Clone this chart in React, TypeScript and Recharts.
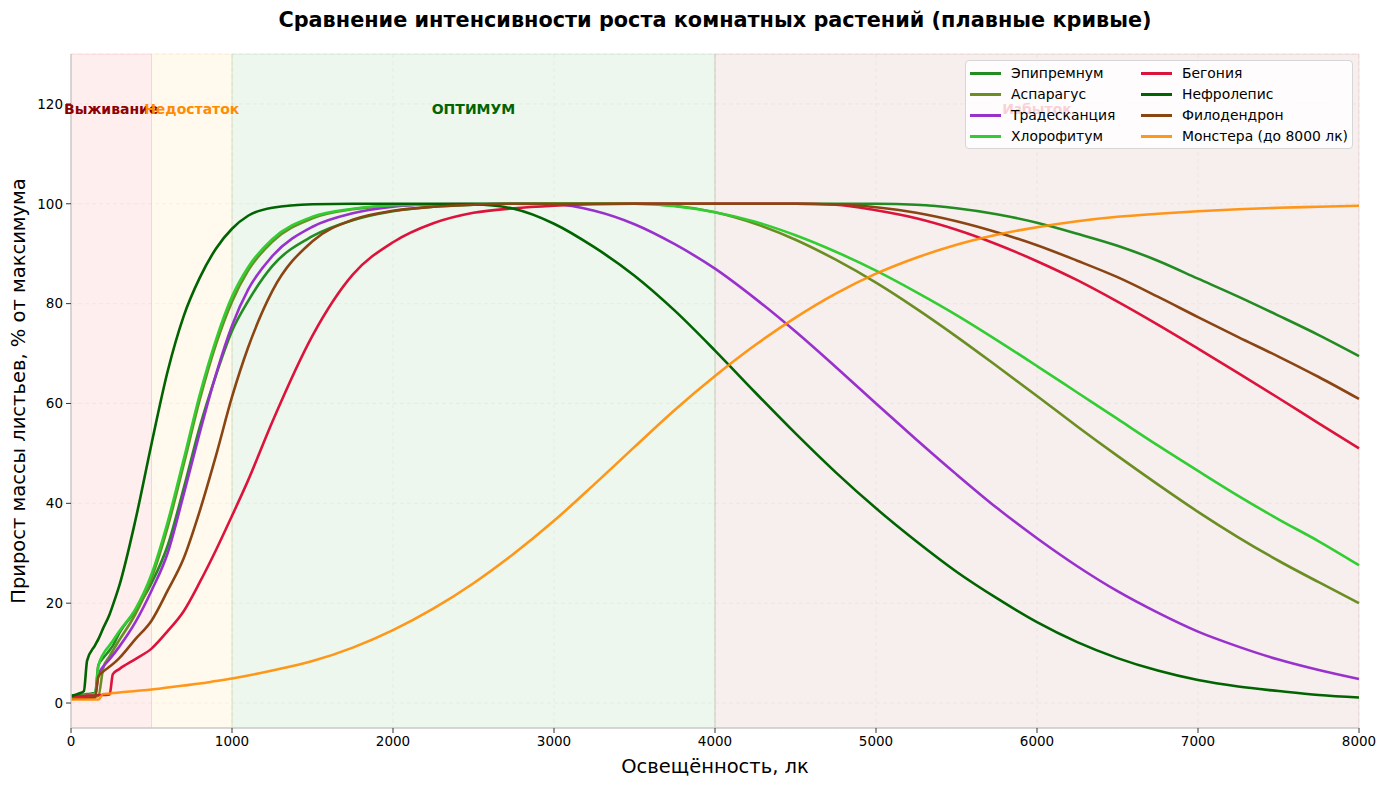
import React from 'react';
import {
    LineChart,
    Line,
    XAxis,
    YAxis,
    CartesianGrid,
    ReferenceArea,
    ReferenceDot,
} from 'recharts';

const FONT = '"DejaVu Sans", Verdana, sans-serif';

// освещённость, лк
const lux = [
    0, 50, 80, 100, 150, 170, 200, 240, 260, 300, 400, 500, 600, 700, 800, 900, 1000, 1100, 1250, 1500,
    1750, 2000, 2250, 2500, 2750, 3000, 3250, 3500, 3750, 4000, 4250, 4500, 4750, 5000, 5250, 5500,
    5750, 6000, 6250, 6500, 6750, 7000, 7250, 7500, 7750, 8000,
];

// прирост массы листьев, % от максимума
const epipremnum = [
    1.5, 1.6, 1.7, 1.8, 2.0, 7.6, 9.0, 10.6, 11.5, 14.0, 18.5, 24.0, 31.5, 43.0, 55.3, 65.6, 74.5, 80.5, 87.5, 93.5,
    96.7, 98.5, 99.4, 99.8, 100, 100, 100, 100, 100, 100, 100, 100, 100, 100, 99.8, 99.1,
    97.9, 96.2, 94.0, 91.6, 88.6, 85.0, 81.4, 77.6, 73.7, 69.5,
];
const asparagus = [
    1.0, 1.1, 1.1, 1.2, 1.3, 1.4, 7.0, 9.4, 10.5, 12.6, 17.8, 25.0, 35.2, 47.8, 60.8, 71.8, 80.4, 86.6, 92.4, 97.1,
    98.9, 99.6, 99.9, 100, 100, 100, 100, 100, 99.6, 98.3, 96.0, 92.8, 88.8, 84.2, 79.0, 73.4,
    67.5, 61.5, 55.4, 49.5, 43.8, 38.3, 33.2, 28.5, 24.2, 20.0,
];
const tradescantia = [
    1.2, 1.3, 1.4, 1.5, 1.7, 5.6, 7.3, 8.8, 9.6, 11.3, 16.2, 22.5, 30.0, 41.8, 54.2, 65.8, 75.6, 82.8, 89.5, 95.4,
    98.1, 99.4, 99.9, 100, 100, 99.9, 98.6, 95.9, 91.9, 87.0, 81.0, 74.4, 67.3, 60.0, 52.8, 45.8,
    39.1, 33.0, 27.4, 22.4, 18.1, 14.3, 11.3, 8.7, 6.6, 4.8,
];
const chlorophytum = [
    1.3, 1.4, 1.5, 1.6, 1.8, 7.4, 9.8, 11.6, 12.5, 14.4, 18.8, 25.8, 36.2, 48.8, 61.8, 72.7, 81.4, 87.3, 92.9, 97.4,
    99.0, 99.7, 99.9, 100, 100, 100, 100, 100, 99.5, 98.3, 96.4, 93.7, 90.4, 86.6, 82.3, 77.7,
    72.7, 67.5, 62.2, 56.9, 51.6, 46.5, 41.5, 36.8, 32.4, 27.6,
];
const begonia = [
    1.3, 1.4, 1.4, 1.5, 1.5, 1.6, 1.6, 1.7, 5.8, 6.8, 8.8, 10.9, 14.4, 18.4, 24.2, 30.6, 37.5, 44.6, 56.3, 73.6,
    85.8, 92.3, 96.1, 98.2, 99.1, 99.6, 99.9, 100, 100, 100, 100, 100, 99.8, 98.7, 97.1, 94.8,
    91.9, 88.5, 84.7, 80.4, 75.8, 71.0, 66.1, 61.1, 56.0, 51.0,
];
const nephrolepis = [
    1.4, 1.9, 2.4, 8.5, 11.6, 12.8, 15.0, 17.8, 19.6, 23.5, 36.6, 51.9, 66.4, 77.5, 85.2, 91.0, 95.0, 97.6, 99.2, 99.9,
    100, 100, 100, 99.9, 99.0, 96.0, 91.3, 85.6, 78.6, 70.6, 62.2, 54.0, 46.2, 39.0, 32.4, 26.3,
    21.0, 16.2, 12.2, 9.0, 6.5, 4.6, 3.3, 2.4, 1.6, 1.1,
];
const philodendron = [
    0.8, 0.9, 0.9, 1.0, 1.1, 5.3, 6.3, 7.3, 7.8, 9.0, 12.8, 16.5, 22.5, 29.0, 38.5, 49.5, 61.3, 71.2, 82.5, 92.5,
    96.8, 98.6, 99.4, 99.8, 100, 100, 100, 100, 100, 100, 100, 100, 99.9, 99.3, 98.2, 96.5,
    94.3, 91.7, 88.6, 85.3, 81.4, 77.3, 73.3, 69.4, 65.3, 60.9,
];
const monstera = [
    0.7, 0.7, 0.7, 0.7, 0.7, 0.7, 1.8, 1.9, 2.0, 2.1, 2.4, 2.7, 3.1, 3.5, 3.9, 4.4, 4.9, 5.5, 6.5, 8.4,
    11.1, 14.6, 18.9, 24.0, 29.9, 36.5, 43.8, 51.3, 58.7, 65.5, 71.7, 77.2, 82.0, 86.0, 89.2, 91.8,
    93.8, 95.3, 96.5, 97.4, 98.0, 98.5, 98.9, 99.2, 99.4, 99.6,
];

const xTicks = [0, 1000, 2000, 3000, 4000, 5000, 6000, 7000, 8000];
const yTicks = [0, 20, 40, 60, 80, 100, 120];

// зоны освещённости
const zones = [
    { from: 0, to: 500, color: '#ff0000', label: 'Выживание', labelColor: '#8b0000' },
    { from: 500, to: 1000, color: '#ffa500', label: 'Недостаток', labelColor: '#ff8c00' },
    { from: 1000, to: 4000, color: '#008000', label: 'ОПТИМУМ', labelColor: '#006400' },
    { from: 4000, to: 8000, color: '#8b0000', label: 'Избыток', labelColor: '#dc143c' },
];
const zoneLabelY = 119;

const plants = [
    { key: 'epipremnum', name: 'Эпипремнум', color: '#228b22', values: epipremnum },
    { key: 'asparagus', name: 'Аспарагус', color: '#6b8e23', values: asparagus },
    { key: 'tradescantia', name: 'Традесканция', color: '#9932cc', values: tradescantia },
    { key: 'chlorophytum', name: 'Хлорофитум', color: '#32cd32', values: chlorophytum },
    { key: 'begonia', name: 'Бегония', color: '#dc143c', values: begonia },
    { key: 'nephrolepis', name: 'Нефролепис', color: '#006400', values: nephrolepis },
    { key: 'philodendron', name: 'Филодендрон', color: '#8b4513', values: philodendron },
    { key: 'monstera', name: 'Монстера (до 8000 лк)', color: '#ff8c00', values: monstera },
];

const rows = lux.map((x, i) => {
    const row: Record<string, number> = { lux: x };
    plants.forEach((p) => {
        row[p.key] = p.values[i];
    });
    return row;
});

const PlantLegend = () => (
    <div style={{
        position: 'absolute',
        left: 965,
        top: 60,
        width: 388,
        height: 89,
        boxSizing: 'border-box',
        background: 'rgba(255,255,255,0.8)',
        border: '1px solid #d6d6d6',
        borderRadius: 4,
        fontSize: 13.9,
        color: '#000',
    }}>
        {plants.map((p, i) => {
            const col = Math.floor(i / 4);
            const row = i % 4;
            const left = col === 0 ? 4 : 175;
            return (
                <div key={p.key} style={{
                    position: 'absolute',
                    left,
                    top: 2 + row * 21,
                    height: 20,
                    lineHeight: '20px',
                    display: 'flex',
                    alignItems: 'center',
                    whiteSpace: 'nowrap',
                }}>
                    <span style={{
                        display: 'inline-block',
                        width: 31,
                        height: 3,
                        background: p.color,
                        opacity: p.key === 'monstera' ? 0.9 : 1,
                        marginRight: 10,
                    }} />
                    <span>{p.name}</span>
                </div>
            );
        })}
    </div>
);

export default function App() {
    return (
        <div style={{
            position: 'relative',
            width: 1387,
            height: 786,
            margin: '-8px 0 0 -8px',
            background: '#fff',
            fontFamily: FONT,
        }}>
            <div style={{
                position: 'absolute',
                left: 71,
                width: 1288,
                top: 7,
                textAlign: 'center',
                fontSize: 20.8,
                lineHeight: '26px',
                fontWeight: 'bold',
                color: '#000',
            }}>
                Сравнение интенсивности роста комнатных растений (плавные кривые)
            </div>

            <LineChart
                width={1387}
                height={786}
                data={rows}
                margin={{ top: 54, right: 28, bottom: 28, left: 11 }}
                style={{ position: 'absolute', left: 0, top: 0 }}
            >
                <CartesianGrid stroke="#b0b0b0" strokeOpacity={0.13} strokeDasharray="4 3" />

                {zones.map((z) => (
                    <ReferenceArea
                        key={z.label}
                        x1={z.from}
                        x2={z.to}
                        fill={z.color}
                        fillOpacity={0.065}
                        stroke={z.color}
                        strokeOpacity={0.1}
                    />
                ))}

                <XAxis
                    type="number"
                    dataKey="lux"
                    domain={[0, 8000]}
                    ticks={xTicks}
                    height={30}
                    tick={{ fontSize: 13.5, fill: '#000', fontFamily: FONT }}
                    tickSize={5}
                    tickMargin={3}
                    axisLine={{ stroke: '#cccccc', strokeWidth: 1.5 }}
                    tickLine={{ stroke: '#333' }}
                />
                <YAxis
                    type="number"
                    domain={[-5, 130]}
                    ticks={yTicks}
                    width={60}
                    tick={{ fontSize: 13.5, fill: '#000', fontFamily: FONT }}
                    tickSize={5}
                    tickMargin={3}
                    axisLine={{ stroke: '#cccccc', strokeWidth: 1.5 }}
                    tickLine={{ stroke: '#333' }}
                />

                {zones.map((z) => (
                    <ReferenceDot
                        key={'lbl-' + z.label}
                        x={(z.from + z.to) / 2}
                        y={zoneLabelY}
                        r={0}
                        fill="none"
                        stroke="none"
                        label={{
                            value: z.label,
                            fill: z.labelColor,
                            fontSize: 14,
                            fontWeight: 'bold',
                            fontFamily: FONT,
                        }}
                    />
                ))}

                {plants.map((p) => (
                    <Line
                        key={p.key}
                        type="monotone"
                        dataKey={p.key}
                        name={p.name}
                        stroke={p.color}
                        strokeOpacity={p.key === 'monstera' ? 0.9 : 1}
                        strokeWidth={2.6}
                        dot={false}
                        activeDot={false}
                        isAnimationActive={false}
                    />
                ))}
            </LineChart>

            <PlantLegend />

            <div style={{
                position: 'absolute',
                left: 71,
                width: 1288,
                top: 755,
                textAlign: 'center',
                fontSize: 19.5,
                lineHeight: '24px',
                color: '#000',
            }}>
                Освещённость, лк
            </div>
            <div style={{
                position: 'absolute',
                left: 19 - 300,
                top: 391 - 12,
                width: 600,
                height: 24,
                lineHeight: '24px',
                textAlign: 'center',
                fontSize: 19.5,
                color: '#000',
                transform: 'rotate(-90deg)',
                whiteSpace: 'nowrap',
            }}>
                Прирост массы листьев, % от максимума
            </div>
        </div>
    );
}
